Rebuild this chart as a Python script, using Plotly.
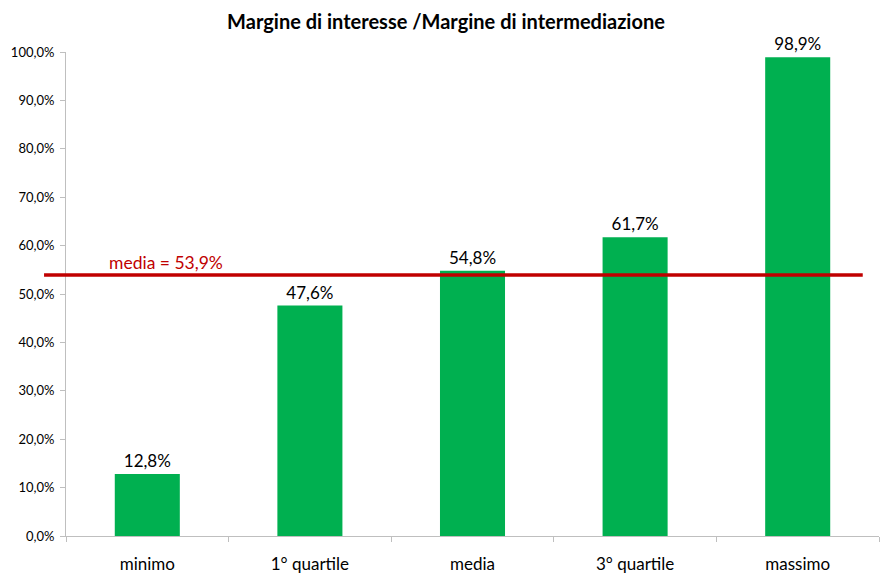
import plotly.graph_objects as go

categories = ["minimo", "1° quartile", "media", "3° quartile", "massimo"]
values = [12.8, 47.6, 54.8, 61.7, 98.9]
mean_value = 53.9
y_ticks = [0, 10, 20, 30, 40, 50, 60, 70, 80, 90, 100]
title_text = "Margine di interesse /Margine di intermediazione"
mean_label = "media = 53,9%"

FONT = "Lato, Calibri, Carlito, sans-serif"

y_ticktext = [f"{v:.1f}%".replace(".", ",") for v in y_ticks]

fig = go.Figure()
fig.add_trace(go.Bar(
    x=categories, y=values,
    marker=dict(color="#00B050", line=dict(width=0)),
    width=0.4,
    texttemplate="%{y:.1f}%",
    textposition="outside",
    textfont=dict(family=FONT, size=17, color="#000000"),
    cliponaxis=False,
    hoverinfo="skip",
))

fig.add_shape(type="line", xref="paper", yref="y",
              x0=-0.027, x1=0.980, y0=mean_value, y1=mean_value,
              line=dict(color="#C00000", width=3.5), layer="above")
fig.add_annotation(xref="paper", yref="y", x=0.051, y=mean_value,
                   text=mean_label, showarrow=False, xanchor="left", yanchor="bottom",
                   yshift=0, font=dict(family=FONT, size=17.5, color="#C00000"))

fig.update_layout(
    width=892, height=581,
    margin=dict(l=66, r=13, t=52, b=45),
    paper_bgcolor="white", plot_bgcolor="white",
    separators=",.",
    showlegend=False,
    title=dict(text="<b>" + title_text + "</b>", x=0.5, xanchor="center",
               y=0.962, yanchor="middle",
               font=dict(family=FONT, size=20, color="#000000")),
    xaxis=dict(showline=True, linecolor="#BFBFBF", linewidth=1,
               ticks="outside", tickson="boundaries", ticklen=5, tickcolor="#BFBFBF",
               tickfont=dict(family=FONT, size=17, color="#000000"),
               ticklabelstandoff=13, automargin=False,
               showgrid=False, zeroline=False),
    yaxis=dict(range=[0, 100], tickmode="array", tickvals=y_ticks, ticktext=y_ticktext,
               showline=True, linecolor="#BFBFBF", linewidth=1,
               ticks="outside", ticklen=5, tickcolor="#BFBFBF",
               tickfont=dict(family=FONT, size=13, color="#000000"),
               ticklabelstandoff=3, automargin=False,
               showgrid=False, zeroline=False),
    bargap=0.6,
)

fig.write_html("out.html")
